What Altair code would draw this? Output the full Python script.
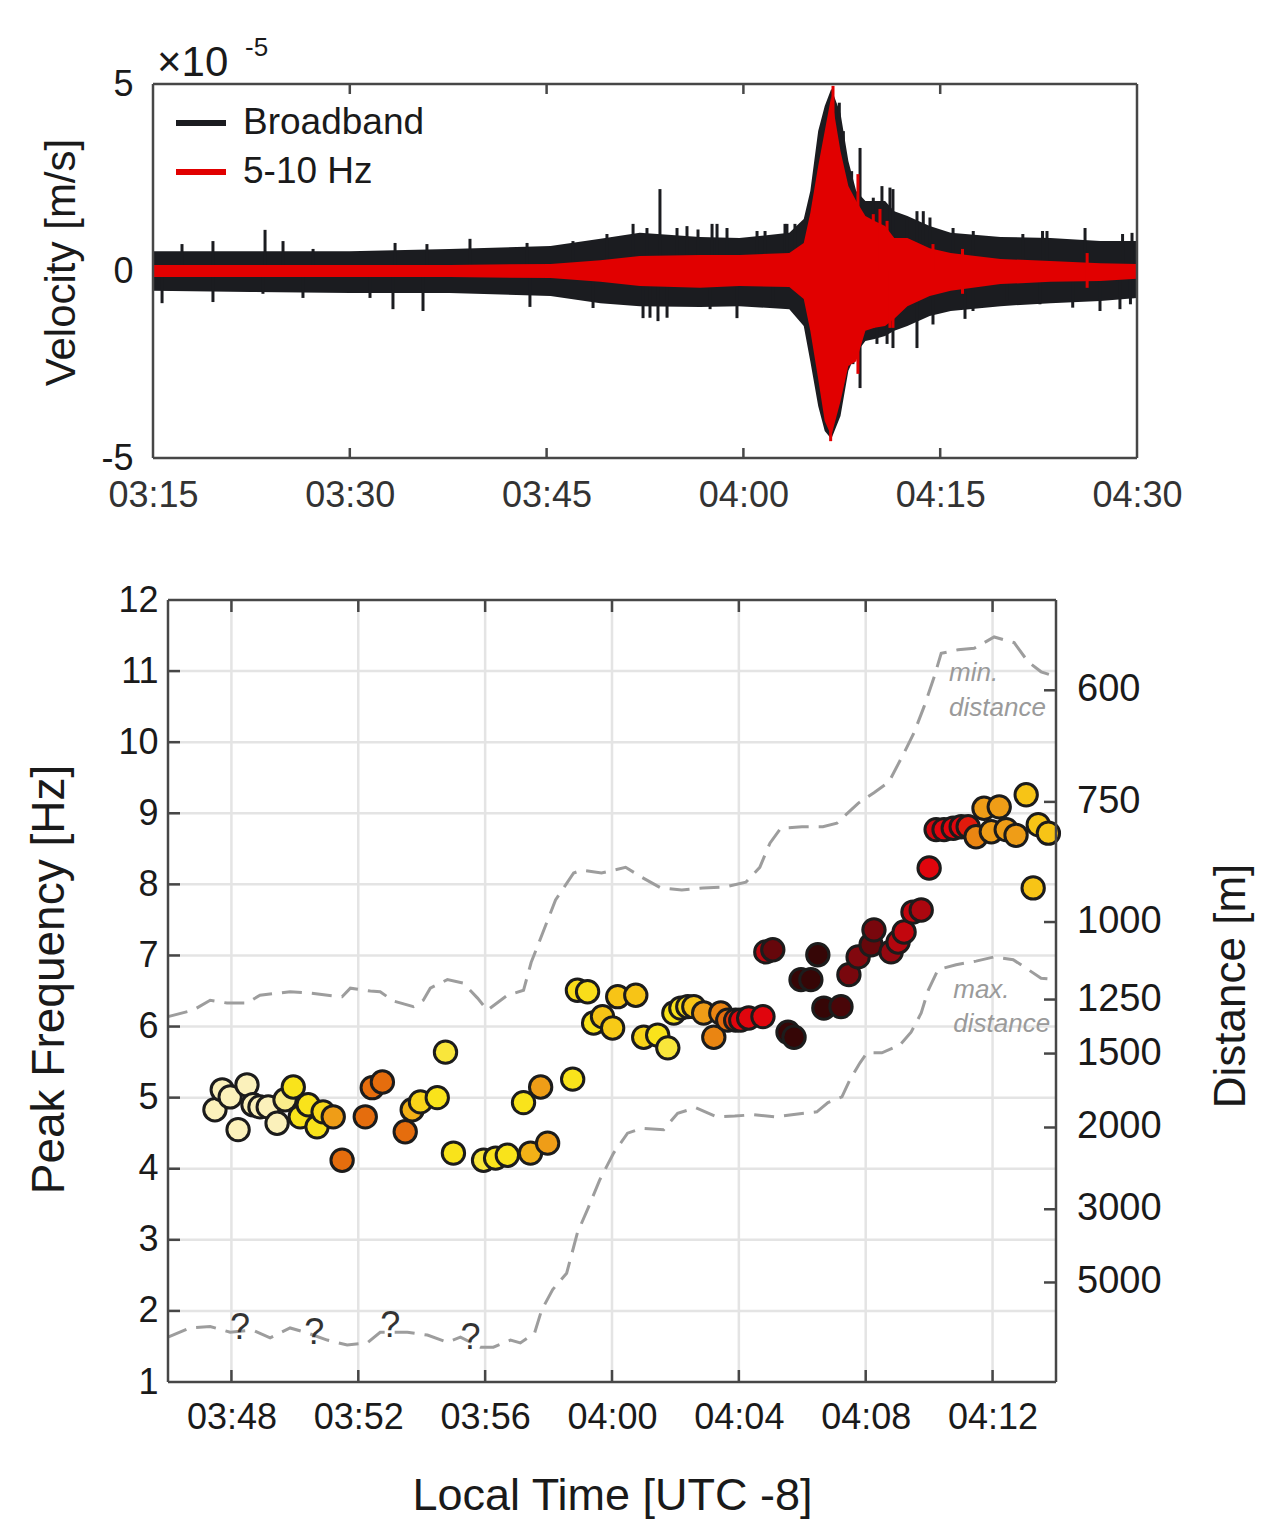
import altair as alt
import pandas as pd

# ---------------------------------------------------------------------------
# Top panel: velocity record (x 1e-5 m/s).
# Times are minutes after midnight, local time.
# ---------------------------------------------------------------------------
env_t = [195, 202.4, 210, 217.6, 225.3, 229.1, 232.1, 236.7, 239.7, 243.5,
         244.6, 245.1, 245.7, 246.2, 246.7, 247.4, 248.0, 248.6, 249.3, 250.0,
         250.8, 251.5, 252.5, 254.2, 255.8, 259.6, 263.4, 267.2, 270]
bb_hi = [0.53, 0.53, 0.53, 0.59, 0.67, 0.86, 1.02, 0.91, 0.88, 1.02,
         1.39, 2.14, 3.74, 4.41, 4.87, 4.22, 2.94, 2.14, 1.87, 1.87,
         1.87, 1.60, 1.47, 1.20, 1.02, 0.91, 0.88, 0.80, 0.80]
bb_lo = [-0.53, -0.56, -0.59, -0.59, -0.67, -0.86, -0.94, -0.96, -0.94, -1.02,
         -1.47, -2.41, -3.61, -4.28, -4.49, -3.88, -2.67, -2.19, -1.87, -1.82,
         -1.74, -1.60, -1.47, -1.20, -1.07, -0.94, -0.86, -0.80, -0.72]
bp_hi = [0.16, 0.16, 0.16, 0.16, 0.19, 0.29, 0.40, 0.43, 0.43, 0.48,
         0.75, 1.55, 2.81, 3.74, 4.68, 3.21, 2.27, 1.87, 1.47, 1.34,
         1.20, 0.88, 0.88, 0.61, 0.48, 0.32, 0.27, 0.21, 0.19]
bp_lo = [-0.16, -0.16, -0.16, -0.16, -0.19, -0.29, -0.40, -0.45, -0.40, -0.43,
         -0.75, -1.60, -2.89, -4.01, -4.41, -3.48, -2.54, -2.41, -1.60, -1.52,
         -1.47, -1.28, -0.94, -0.67, -0.53, -0.35, -0.29, -0.27, -0.21]

# isolated spikes sticking out of the envelopes
bb_spike_t = [197.21, 199.57, 203.54, 204.91, 207.20, 213.45, 215.88, 219.16,
              223.51, 227.01, 229.60, 231.59, 232.65, 233.64, 234.94, 235.70,
              236.54, 237.61, 237.99, 238.75, 241.04, 241.65, 243.17, 243.32,
              243.93, 247.31, 247.62, 248.25, 248.89, 249.90, 250.56, 251.17,
              251.40, 252.44, 253.23, 253.71, 254.22, 255.98, 257.52, 261.30,
              262.80, 263.14, 266.04, 268.90, 269.62,
              195.69, 199.57, 203.38, 206.43, 211.54, 213.29, 215.58, 223.73,
              228.54, 232.35, 232.88, 233.49, 234.18, 237.46, 239.51, 242.26,
              248.35, 248.89, 250.18, 250.95, 251.40, 253.23, 254.45, 256.89,
              257.50, 260.09, 262.60, 265.10, 267.18, 268.70, 269.50]
bb_spike_v = [0.72, 0.80, 1.10, 0.80, 0.59, 0.75, 0.72, 0.86,
              0.75, 0.80, 0.99, 1.26, 1.15, 2.19, 1.15, 1.20,
              1.11, 1.26, 1.26, 1.15, 1.07, 1.07, 1.26, 1.26,
              1.26, 4.50, 3.74, 2.67, 3.29, 1.96, 2.27, 2.23,
              2.19, 1.43, 1.60, 1.60, 1.43, 1.15, 1.07, 0.99,
              1.07, 1.07, 1.15, 0.99, 1.02,
              -0.86, -0.83, -0.61, -0.72, -0.72, -1.02, -1.07, -0.96,
              -0.99, -1.26, -1.25, -1.34, -1.25, -1.02, -1.26, -0.89,
              -2.49, -3.13, -1.95, -1.95, -2.06, -2.06, -1.43, -1.28,
              -1.07, -0.80, -0.89, -0.98, -1.07, -1.02, -0.89]
bp_spike_t = [246.83, 246.65, 248.73, 248.73, 249.90, 249.90, 250.41, 250.95,
              251.17, 251.40, 254.45, 256.70, 256.70, 266.20, 266.20]
bp_spike_v = [4.95, -4.55, 2.59, -2.75, 1.52, -1.52, 1.66, 1.34,
              -1.52, -1.52, 0.72, 0.59, -0.61, 0.48, -0.45]

series_names = ["Broadband", "5-10 Hz"]
series_colors = ["#1b1c20", "#e10000"]

vel_domain = [-5, 5]
vel_ticks = [-5, 0, 5]
top_domain = [195, 270]
top_time_ticks = [195, 210, 225, 240, 255, 270]

# ---------------------------------------------------------------------------
# Bottom panel: peak frequency picks
# ---------------------------------------------------------------------------
pick_t = [227.48, 227.71, 227.96, 228.49, 228.21, 228.68, 228.90, 229.16, 229.44, 229.69,
          229.95, 230.17, 230.42, 230.70, 230.89, 231.21, 231.49, 232.22, 232.44, 232.76,
          233.48, 233.70, 233.96, 234.49, 234.75, 235.00, 235.95, 236.33, 236.70, 237.43,
          237.97, 237.21, 237.75, 238.76, 238.91, 239.23, 239.42, 239.70, 240.02, 240.18,
          240.75, 241.00, 241.44, 241.76, 241.95, 242.17, 242.39, 242.58, 242.89, 243.21,
          243.43, 243.65, 243.90, 244.06, 244.31, 244.76, 245.55, 245.74, 244.85, 245.07,
          245.96, 246.27, 246.49, 246.68, 247.22, 247.47, 247.76, 248.17, 248.26, 248.80,
          249.02, 249.21, 249.49, 249.75, 250.00, 250.22, 250.47, 250.76, 251.01, 251.23,
          251.48, 251.73, 251.96, 252.21, 252.43, 252.74, 253.06, 253.44, 253.76, 253.28]
pick_f = [4.83, 5.11, 5.01, 5.18, 4.55, 4.90, 4.87, 4.87, 4.64, 4.97,
          5.15, 4.73, 4.90, 4.59, 4.80, 4.73, 4.12, 4.73, 5.14, 5.22,
          4.52, 4.83, 4.94, 5.00, 5.64, 4.22, 4.12, 4.15, 4.19, 4.22,
          4.36, 4.93, 5.15, 5.26, 6.51, 6.49, 6.05, 6.14, 5.98, 6.42,
          6.44, 5.85, 5.88, 5.70, 6.19, 6.26, 6.28, 6.28, 6.19, 5.85,
          6.19, 6.09, 6.09, 6.09, 6.12, 6.14, 5.92, 5.85, 7.05, 7.08,
          6.66, 6.66, 7.01, 6.26, 6.28, 6.73, 6.98, 7.15, 7.36, 7.05,
          7.19, 7.33, 7.61, 7.64, 8.23, 8.77, 8.77, 8.79, 8.81, 8.81,
          8.67, 9.07, 8.74, 9.09, 8.77, 8.69, 9.26, 8.84, 8.72, 7.95]
# colour level of each pick (0 pale cream ... 7 near black)
pick_c = [0, 0, 0, 0, 0, 0, 0, 0, 0, 0.3,
          1, 1, 1, 1, 1.3, 3, 4, 4, 4, 4,
          4, 2.5, 1.5, 1, 0.8, 1, 0.8, 1, 1, 2.5,
          3, 1, 3, 1, 1.2, 1.2, 1, 2, 1.8, 2,
          2, 1.5, 1, 0.8, 1, 1, 1.3, 2, 3, 3.5,
          3.5, 4, 4.5, 5, 5, 5, 7, 7, 5.5, 6.5,
          7, 7, 7, 7, 6.8, 6.3, 6.2, 6.5, 6.3, 6,
          5.6, 5.4, 5.4, 5.7, 5, 5.2, 5, 5, 5, 4.8,
          3.5, 3, 3, 3, 3, 3, 2, 2, 2, 2]
level_colors = ["#fbf1bb", "#f9e31b", "#f7c416", "#ef9d17",
                "#e56d0d", "#e0050d", "#950810", "#360606"]

# dashed distance bounds
min_t = [226.0, 226.79, 227.33, 227.86, 228.49, 228.90, 229.85, 230.48, 231.21, 231.49,
         231.75, 232.38, 232.69, 233.10, 233.74, 234.05, 234.27, 234.81, 235.31, 235.76,
         236.07, 236.70, 237.21, 237.45, 238.22, 238.79, 239.04, 239.67, 240.43, 240.94,
         241.54, 242.20, 242.86, 243.52, 244.22, 244.66, 244.98, 245.32, 245.99, 246.65,
         247.09, 247.76, 248.26, 248.73, 249.21, 249.52, 249.84, 250.16, 250.38, 250.91,
         251.42, 252.05, 252.68, 253.12, 253.53, 254.0]
min_f = [6.14, 6.23, 6.37, 6.33, 6.33, 6.44, 6.49, 6.47, 6.43, 6.42,
         6.54, 6.50, 6.49, 6.36, 6.28, 6.37, 6.54, 6.66, 6.61, 6.40,
         6.23, 6.44, 6.51, 6.90, 7.78, 8.16, 8.20, 8.16, 8.24, 8.10,
         7.95, 7.92, 7.95, 7.96, 8.03, 8.24, 8.58, 8.79, 8.81, 8.81,
         8.86, 9.14, 9.29, 9.44, 9.85, 10.13, 10.50, 10.92, 11.25, 11.30,
         11.32, 11.48, 11.40, 11.13, 10.99, 10.92]
max_t = [226.0, 226.69, 227.33, 227.96, 228.68, 229.22, 229.85, 230.39, 231.02, 231.65,
         232.28, 232.69, 233.55, 234.18, 234.81, 235.22, 235.85, 236.26, 236.80, 237.11,
         237.56, 237.78, 238.13, 238.57, 238.91, 239.26, 239.61, 240.05, 240.49, 240.94,
         241.63, 242.07, 242.64, 243.30, 243.87, 244.44, 245.13, 245.67, 246.46, 246.81,
         247.25, 247.50, 247.82, 248.04, 248.51, 249.08, 249.43, 249.75, 249.97, 250.28,
         250.85, 251.48, 252.05, 252.65, 253.06, 253.53, 254.0]
max_f = [1.63, 1.76, 1.78, 1.70, 1.73, 1.62, 1.76, 1.69, 1.59, 1.52,
         1.55, 1.70, 1.70, 1.66, 1.56, 1.63, 1.49, 1.49, 1.59, 1.55,
         1.69, 2.01, 2.30, 2.53, 3.10, 3.46, 3.84, 4.22, 4.50, 4.57,
         4.55, 4.78, 4.86, 4.73, 4.74, 4.76, 4.73, 4.76, 4.80, 4.93,
         5.01, 5.25, 5.49, 5.63, 5.63, 5.74, 5.92, 6.19, 6.51, 6.80,
         6.87, 6.92, 6.98, 6.94, 6.82, 6.68, 6.66]

freq_domain = [1, 12]
freq_ticks = list(range(1, 13))
bottom_domain = [226, 254]
bottom_time_ticks = [228, 232, 236, 240, 244, 248, 252]

# right-hand distance scale: label and the frequency it sits at
dist_labels = ["600", "750", "1000", "1250", "1500", "2000", "3000", "5000"]
dist_freq = [10.73, 9.16, 7.47, 6.38, 5.62, 4.58, 3.43, 2.40]

note_text = ["min.", "distance", "max.", "distance"]
note_t = [250.63, 250.63, 250.76, 250.76]
note_f = [10.97, 10.48, 6.51, 6.04]
query_t = [228.27, 230.61, 233.01, 235.54]
query_f = [1.76, 1.69, 1.79, 1.62]

# ---------------------------------------------------------------------------
# styling
# ---------------------------------------------------------------------------
FONT = "Liberation Sans"
INK = "#1a1a1a"
SPINE = "#474747"
GRID = "#e4e4e4"
DASH = "#9d9d9d"
TIME_FMT = "timeFormat(datetime(2000, 0, 1, 0, datum.value), '%H:%M')"

TOP_W, TOP_H = 969, 374      # top plot starts 15 px left of the group origin
BOT_W, BOT_H = 888, 782

top_x_axis = alt.Axis(values=top_time_ticks, labelExpr=TIME_FMT, title=None,
                      ticks=False, domain=False, grid=False, labelPadding=20,
                      labelFontSize=36, labelColor="#333333", labelFlush=False)
top_y_axis = alt.Axis(values=vel_ticks, labelExpr="'' + datum.value", offset=15,
                      title="Velocity [m/s]", titleFontSize=42, titlePadding=17,
                      titleY=178, ticks=False, domain=False, grid=False,
                      labelPadding=20, labelFontSize=36)


def top_x(field):
    return alt.X(field, type="quantitative", axis=top_x_axis,
                 scale=alt.Scale(domain=top_domain, range=[-15, TOP_W],
                                 nice=False, zero=False))


def top_y(field):
    return alt.Y(field, type="quantitative", axis=top_y_axis,
                 scale=alt.Scale(domain=vel_domain, nice=False, zero=False))


bot_x_axis = alt.Axis(values=bottom_time_ticks, labelExpr=TIME_FMT,
                      title="Local Time [UTC -8]", titleFontSize=45, titlePadding=38,
                      ticks=False, domain=False, grid=False, labelPadding=18,
                      labelFontSize=36, labelFlush=False)
bot_y_axis = alt.Axis(values=freq_ticks, title="Peak Frequency [Hz]",
                      titleFontSize=46, titlePadding=44, titleY=379, ticks=False,
                      domain=False, grid=False, labelPadding=10, labelFontSize=36)


def bot_x(field):
    return alt.X(field, type="quantitative", axis=bot_x_axis,
                 scale=alt.Scale(domain=bottom_domain, nice=False, zero=False))


def bot_y(field):
    return alt.Y(field, type="quantitative", axis=bot_y_axis,
                 scale=alt.Scale(domain=freq_domain, nice=False, zero=False))


def frame(xd, yd):
    return pd.DataFrame({
        "x": [xd[0], xd[1], xd[0], xd[0]],
        "x2": [xd[0], xd[1], xd[1], xd[1]],
        "y": [yd[0], yd[0], yd[0], yd[1]],
        "y2": [yd[1], yd[1], yd[0], yd[1]],
    })


# ---------------------------------------------------------------------------
# top chart
# ---------------------------------------------------------------------------
env = pd.DataFrame({"t": env_t, "bb_hi": bb_hi, "bb_lo": bb_lo,
                    "bp_hi": bp_hi, "bp_lo": bp_lo})
bb_spikes = pd.DataFrame({"t": bb_spike_t, "v": bb_spike_v, "base": 0,
                          "series": series_names[0]})
bp_spikes = pd.DataFrame({"t": bp_spike_t, "v": bp_spike_v, "base": 0,
                          "series": series_names[1]})

series_color = alt.Color(
    "series:N",
    scale=alt.Scale(domain=series_names, range=series_colors),
    legend=alt.Legend(orient="none", legendX=5, legendY=11, title=None,
                      labelFontSize=37, labelColor=INK, labelLimit=0,
                      symbolType="stroke", symbolSize=2500, symbolStrokeWidth=6,
                      labelOffset=14, rowPadding=3, padding=0),
)

bb_area = alt.Chart(env).mark_area(color=series_colors[0]).encode(
    x=top_x("t"), y=top_y("bb_lo"), y2="bb_hi")
bb_rules = alt.Chart(bb_spikes).mark_rule(strokeWidth=3).encode(
    x=top_x("t"), y=top_y("v"), y2="base", color=series_color)
bp_area = alt.Chart(env).mark_area(color=series_colors[1]).encode(
    x=top_x("t"), y=top_y("bp_lo"), y2="bp_hi")
bp_rules = alt.Chart(bp_spikes).mark_rule(strokeWidth=3).encode(
    x=top_x("t"), y=top_y("v"), y2="base", color=series_color)

top_frame = alt.Chart(frame(top_domain, vel_domain)).mark_rule(
    color=SPINE, strokeWidth=2.5).encode(x=top_x("x"), x2="x2", y=top_y("y"), y2="y2")
top_tick_df = pd.DataFrame({"t": top_time_ticks[1:-1]})
top_ticks_up = alt.Chart(top_tick_df).mark_rule(color=SPINE, strokeWidth=2.5).encode(
    x=top_x("t"), y=alt.value(0), y2=alt.value(10))
top_ticks_dn = alt.Chart(top_tick_df).mark_rule(color=SPINE, strokeWidth=2.5).encode(
    x=top_x("t"), y=alt.value(TOP_H), y2=alt.value(TOP_H - 10))

blank = alt.Data(values=[{}])
exp_base = alt.Chart(blank).mark_text(
    text="\u00d710", fontSize=42, align="left", baseline="middle", color=INK
).encode(x=alt.value(-11), y=alt.value(-21))
exp_power = alt.Chart(blank).mark_text(
    text="-5", fontSize=26, align="left", baseline="middle", color=INK
).encode(x=alt.value(77), y=alt.value(-36))

top = alt.layer(
    bb_area, bb_rules, bp_area, bp_rules, top_frame, top_ticks_up, top_ticks_dn,
    exp_base, exp_power,
).properties(width=TOP_W, height=TOP_H)

# ---------------------------------------------------------------------------
# bottom chart
# ---------------------------------------------------------------------------
hgrid = pd.DataFrame({"f": freq_ticks[1:-1], "x0": bottom_domain[0],
                      "x1": bottom_domain[1]})
vgrid = pd.DataFrame({"t": bottom_time_ticks, "y0": freq_domain[0],
                      "y1": freq_domain[1]})
curves = pd.concat([
    pd.DataFrame({"t": min_t, "f": min_f, "curve": "min"}),
    pd.DataFrame({"t": max_t, "f": max_f, "curve": "max"}),
])
picks = pd.DataFrame({"t": pick_t, "f": pick_f, "c": pick_c})
dist = pd.DataFrame({"f": dist_freq, "label": dist_labels})
notes = pd.DataFrame({"t": note_t, "f": note_f, "label": note_text})
queries = pd.DataFrame({"t": query_t, "f": query_f, "label": "?"})

grid_h = alt.Chart(hgrid).mark_rule(color=GRID, strokeWidth=2.5).encode(
    x=bot_x("x0"), x2="x1", y=bot_y("f"))
grid_v = alt.Chart(vgrid).mark_rule(color=GRID, strokeWidth=2.5).encode(
    x=bot_x("t"), y=bot_y("y0"), y2="y1")
dashed = alt.Chart(curves).mark_line(
    color=DASH, strokeWidth=3, strokeDash=[20, 10]
).encode(x=bot_x("t"), y=bot_y("f"), detail="curve:N")
note_marks = alt.Chart(notes).mark_text(
    align="left", baseline="middle", fontSize=26, fontStyle="italic", color="#9a9a9a"
).encode(x=bot_x("t"), y=bot_y("f"), text="label:N")
query_marks = alt.Chart(queries).mark_text(
    align="center", baseline="middle", fontSize=36, color="#333333"
).encode(x=bot_x("t"), y=bot_y("f"), text="label:N")
points = alt.Chart(picks).mark_circle(
    size=500, opacity=1, stroke="#1c1c1c", strokeWidth=3
).encode(
    x=bot_x("t"), y=bot_y("f"),
    color=alt.Color("c:Q", legend=None,
                    scale=alt.Scale(domain=list(range(8)), range=level_colors,
                                    interpolate="rgb")),
)

bot_frame = alt.Chart(frame(bottom_domain, freq_domain)).mark_rule(
    color=SPINE, strokeWidth=2.5).encode(x=bot_x("x"), x2="x2", y=bot_y("y"), y2="y2")
left_ticks = alt.Chart(hgrid).mark_rule(color=SPINE, strokeWidth=2.5).encode(
    x=alt.value(0), x2=alt.value(12), y=bot_y("f"))
right_ticks = alt.Chart(dist).mark_rule(color=SPINE, strokeWidth=2.5).encode(
    x=alt.value(BOT_W), x2=alt.value(BOT_W - 12), y=bot_y("f"))
top_edge_ticks = alt.Chart(vgrid).mark_rule(color=SPINE, strokeWidth=2.5).encode(
    x=bot_x("t"), y=alt.value(0), y2=alt.value(12))
bot_edge_ticks = alt.Chart(vgrid).mark_rule(color=SPINE, strokeWidth=2.5).encode(
    x=bot_x("t"), y=alt.value(BOT_H), y2=alt.value(BOT_H - 12))
dist_text = alt.Chart(dist).mark_text(
    align="left", baseline="middle", fontSize=38, color=INK
).encode(x=alt.value(BOT_W + 21), y=bot_y("f"), text="label:N")
dist_title = alt.Chart(blank).mark_text(
    text="Distance [m]", angle=270, fontSize=44, align="center",
    baseline="middle", color=INK
).encode(x=alt.value(1064), y=alt.value(386))

bottom = alt.layer(
    grid_h, grid_v, dashed, note_marks, query_marks, points, bot_frame,
    left_ticks, right_ticks, top_edge_ticks, bot_edge_ticks, dist_text, dist_title,
).properties(width=BOT_W, height=BOT_H)

chart = (
    alt.vconcat(top, bottom, spacing=67)
    .properties(padding={"left": 18, "top": 26, "right": 5, "bottom": 5},
                background="white")
    .configure(font=FONT)
    .configure_axis(labelColor=INK, titleColor=INK, titleFontWeight="normal")
    .configure_view(stroke="transparent")
)

chart.save("out.html", embed_options={"renderer": "svg", "actions": False})
